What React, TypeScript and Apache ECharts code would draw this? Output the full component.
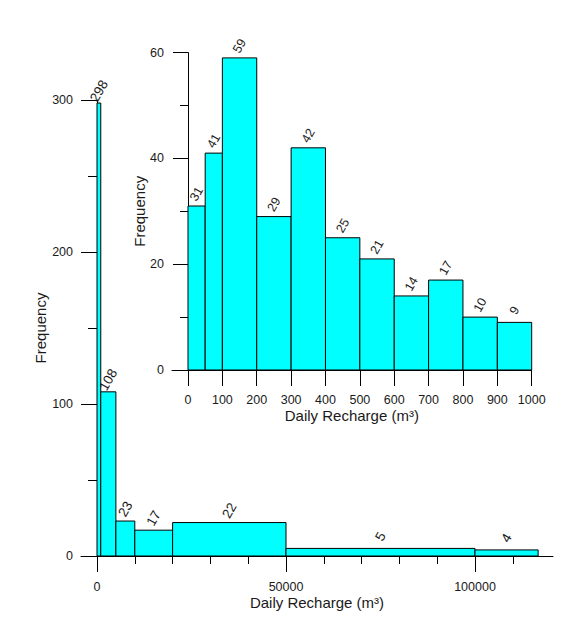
import React, { useEffect, useRef } from "react";
import * as echarts from "echarts";

// Main histogram (unequal bins)
const mainBinStart = [0, 1000, 5000, 10000, 20000, 50000, 100000];
const mainBinEnd = [1000, 5000, 10000, 20000, 50000, 100000, 116700];
const mainCounts = [298, 108, 23, 17, 22, 5, 4];
const mainXTicks = [0, 50000, 100000];
const mainXMinorTicks = [10000, 20000, 30000, 40000, 60000, 70000, 80000, 90000, 110000];

// Inset histogram (0 - 1000)
const insetBinStart = [0, 50, 100, 200, 300, 400, 500, 600, 700, 800, 900];
const insetBinEnd = [50, 100, 200, 300, 400, 500, 600, 700, 800, 900, 1000];
const insetCounts = [31, 41, 59, 29, 42, 25, 21, 14, 17, 10, 9];
const insetXTicks = [0, 100, 200, 300, 400, 500, 600, 700, 800, 900, 1000];

const xTitle = "Daily Recharge (m³)";
const yTitle = "Frequency";

const FONT = "'Liberation Sans', Arial, sans-serif";
const TXT = "#1a1a1a";

function makeRenderBar(fontSize: number) {
  return function renderBar(params: any, api: any) {
    const x0 = api.value(0);
    const x1 = api.value(1);
    const c = api.value(2);
    const p0 = api.coord([x0, 0]);
    const p1 = api.coord([x1, c]);
    return {
      type: "group",
      children: [
        {
          type: "rect",
          shape: { x: p0[0], y: p1[1], width: p1[0] - p0[0], height: p0[1] - p1[1] },
          style: { fill: "#00ffff", stroke: "#000", lineWidth: 1 },
        },
        {
          type: "text",
          x: (p0[0] + p1[0]) / 2,
          y: p1[1] - 12,
          rotation: Math.PI / 3,
          style: {
            text: String(c),
            fill: TXT,
            font: `${fontSize}px ${FONT}`,
            align: "center",
            verticalAlign: "middle",
          },
        },
      ],
    };
  };
}

export default function App() {
  const ref = useRef<HTMLDivElement>(null);
  useEffect(() => {
    document.body.style.margin = "0";
    if (!ref.current) return;
    const chart = echarts.init(ref.current, null, { renderer: "svg" });
    const mainData = mainBinStart.map((s, i) => [s, mainBinEnd[i], mainCounts[i]]);
    const insetData = insetBinStart.map((s, i) => [s, insetBinEnd[i], insetCounts[i]]);
    const line = { color: "#000", width: 1 };
    const label = {
      color: TXT,
      fontSize: 12.5,
      fontFamily: FONT,
      formatter: (v: number) => String(v),
    };
    const nameStyle = { color: TXT, fontSize: 15, fontFamily: FONT };
    chart.setOption({
      animation: false,
      backgroundColor: "#fff",
      textStyle: { fontFamily: FONT },
      grid: [
        { left: 81, top: 100, width: 472, height: 456 },
        { left: 172, top: 52.6, width: 359.7, height: 317.4 },
      ],
      xAxis: [
        {
          gridIndex: 0,
          type: "value",
          min: -4233,
          max: 120635,
          position: "bottom",
          axisLine: { show: true, onZero: false, lineStyle: line },
          axisTick: { show: true, customValues: mainXTicks, length: 16, lineStyle: line },
          axisLabel: { customValues: mainXTicks, margin: 24, ...label },
          splitLine: { show: false },
          name: xTitle,
          nameLocation: "middle",
          nameGap: 39,
          nameMoveOverlap: false,
          nameTextStyle: nameStyle,
        },
        {
          gridIndex: 0,
          type: "value",
          min: -4233,
          max: 120635,
          position: "bottom",
          axisLine: { show: false, onZero: false },
          axisTick: { show: true, customValues: mainXMinorTicks, length: 8, lineStyle: line },
          axisLabel: { show: false },
          splitLine: { show: false },
        },
        {
          gridIndex: 1,
          type: "value",
          min: -46.55,
          max: 1000,
          position: "bottom",
          axisLine: { show: true, onZero: false, lineStyle: line },
          axisTick: { show: true, customValues: insetXTicks, length: 16, lineStyle: line },
          axisLabel: { customValues: insetXTicks, margin: 23, ...label },
          splitLine: { show: false },
          name: xTitle,
          nameLocation: "middle",
          nameGap: 38,
          nameMoveOverlap: false,
          nameTextStyle: nameStyle,
        },
      ],
      yAxis: [
        {
          gridIndex: 0,
          type: "value",
          min: 0,
          max: 300,
          interval: 100,
          position: "left",
          offset: -16,
          axisLine: { show: true, onZero: false, lineStyle: line },
          axisTick: { show: true, length: 16, lineStyle: line },
          minorTick: { show: true, splitNumber: 2, length: 9, lineStyle: line },
          axisLabel: { margin: 24, ...label },
          splitLine: { show: false },
          minorSplitLine: { show: false },
          name: yTitle,
          nameLocation: "middle",
          nameGap: 49.5,
          nameMoveOverlap: false,
          nameTextStyle: nameStyle,
        },
        {
          gridIndex: 1,
          type: "value",
          min: 0,
          max: 60,
          interval: 20,
          position: "left",
          offset: -16,
          axisLine: { show: true, onZero: false, lineStyle: line },
          axisTick: { show: true, length: 15, lineStyle: line },
          minorTick: { show: true, splitNumber: 2, length: 8, lineStyle: line },
          axisLabel: { margin: 24, ...label },
          splitLine: { show: false },
          minorSplitLine: { show: false },
          name: yTitle,
          nameLocation: "middle",
          nameGap: 41,
          nameMoveOverlap: false,
          nameTextStyle: nameStyle,
        },
      ],
      series: [
        {
          type: "custom",
          xAxisIndex: 0,
          yAxisIndex: 0,
          data: mainData,
          encode: { x: [0, 1], y: 2 },
          renderItem: makeRenderBar(13.5),
        },
        {
          type: "custom",
          xAxisIndex: 2,
          yAxisIndex: 1,
          data: insetData,
          encode: { x: [0, 1], y: 2 },
          renderItem: makeRenderBar(12.5),
        },
      ],
    });
    return () => chart.dispose();
  }, []);
  return <div ref={ref} style={{ width: 576, height: 620 }} />;
}
